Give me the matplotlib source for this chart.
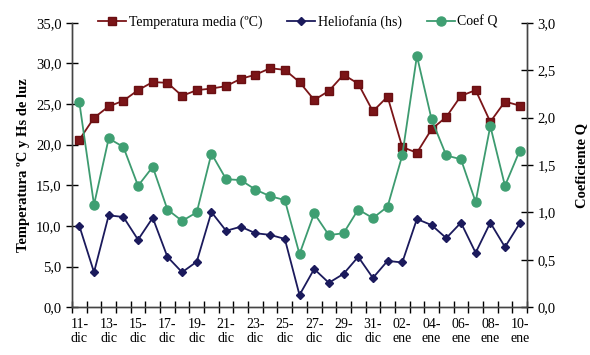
import matplotlib.pyplot as plt
import numpy as np

plt.rcParams['font.family'] = ['Liberation Serif', 'DejaVu Serif']

# Fechas (11-dic a 10-ene)
fechas = ['11-dic', '12-dic', '13-dic', '14-dic', '15-dic', '16-dic', '17-dic', '18-dic',
          '19-dic', '20-dic', '21-dic', '22-dic', '23-dic', '24-dic', '25-dic', '26-dic',
          '27-dic', '28-dic', '29-dic', '30-dic', '31-dic', '01-ene', '02-ene', '03-ene',
          '04-ene', '05-ene', '06-ene', '07-ene', '08-ene', '09-ene', '10-ene']

temperatura = [20.6, 23.3, 24.7, 25.4, 26.7, 27.7, 27.6, 26.0, 26.7, 26.9, 27.2, 28.1,
               28.6, 29.4, 29.2, 27.7, 25.5, 26.6, 28.6, 27.5, 24.1, 25.9, 19.7, 19.0,
               21.9, 23.4, 26.0, 26.7, 22.8, 25.3, 24.8]
heliofania = [10.0, 4.3, 11.3, 11.1, 8.3, 11.0, 6.2, 4.3, 5.6, 11.7, 9.4, 9.9, 9.1, 8.9,
              8.4, 1.5, 4.7, 3.0, 4.1, 6.2, 3.6, 5.7, 5.5, 10.85, 10.1, 8.5, 10.4, 6.7,
              10.4, 7.4, 10.3]
coef_q = [2.16, 1.08, 1.78, 1.69, 1.28, 1.48, 1.03, 0.91, 1.00, 1.62, 1.35, 1.34, 1.24,
          1.17, 1.13, 0.56, 0.99, 0.76, 0.78, 1.03, 0.94, 1.06, 1.60, 2.65, 1.98, 1.60,
          1.56, 1.11, 1.91, 1.28, 1.65]

c_temp = '#7b1518'
c_helio = '#1b1a5c'
c_q = '#3d9b70'

fig = plt.figure(figsize=(5.9, 3.55), dpi=100)
ax1 = fig.add_axes([72 / 590, 1 - 307.2 / 355, (527 - 72) / 590, (307.2 - 22.7) / 355])
ax2 = ax1.twinx()

x = np.arange(len(fechas))
l1, = ax1.plot(x, temperatura, color=c_temp, marker='s', markersize=6, linewidth=1.3,
               label='Temperatura media (ºC)')
l2, = ax1.plot(x, heliofania, color=c_helio, marker='D', markersize=4.5, linewidth=1.3,
               label='Heliofanía (hs)')
l3, = ax2.plot(x, coef_q, color=c_q, marker='o', markersize=6.5, linewidth=1.3,
               markerfacecolor='#3f9f72', markeredgecolor='#3f9f72', label='Coef Q')
l1.set_markeredgecolor('#6a0f12')

ax1.set_xlim(-0.5, len(fechas) - 0.5)
ax1.set_ylim(0, 35)
ax2.set_ylim(0, 3)
ax1.set_yticks(np.arange(0, 35.1, 5))
ax1.set_yticklabels([f'{v:.1f}'.replace('.', ',') for v in np.arange(0, 35.1, 5)])
ax2.set_yticks(np.arange(0, 3.01, 0.5))
ax2.set_yticklabels([f'{v:.1f}'.replace('.', ',') for v in np.arange(0, 3.01, 0.5)])

ax1.set_xticks(x[::2])
ax1.set_xticklabels([f.replace('-', '-\n') for f in fechas[::2]], fontsize=10,
                    linespacing=1.05)
ax1.set_xticks(np.arange(-0.5, len(fechas), 1), minor=True)
ax1.tick_params(axis='x', which='major', length=0, pad=8)
ax1.tick_params(axis='x', which='minor', length=8, direction='inout', width=1)
ax1.tick_params(axis='y', length=8, direction='inout', labelsize=10.5, width=1)
ax2.tick_params(axis='y', length=8, direction='inout', labelsize=10.5, width=1)

for ax in (ax1, ax2):
    ax.spines['top'].set_visible(False)
    for s in ('left', 'right', 'bottom'):
        ax.spines[s].set_color('#444444')
        ax.spines[s].set_linewidth(1)

ax1.set_ylabel('Temperatura ºC y Hs de luz', fontsize=10.5, fontweight='bold', labelpad=4)
ax2.set_ylabel('Coeficiente Q', fontsize=10.5, fontweight='bold', labelpad=14)

fig.legend(handles=[l1, l2, l3], loc='center', bbox_to_anchor=(298 / 590, 1 - 22 / 355),
           ncol=3, frameon=False, fontsize=10, handlelength=2.0, columnspacing=1.8,
           handletextpad=0.2, borderaxespad=0)

fig.savefig('out.png', dpi=100, facecolor='white')
